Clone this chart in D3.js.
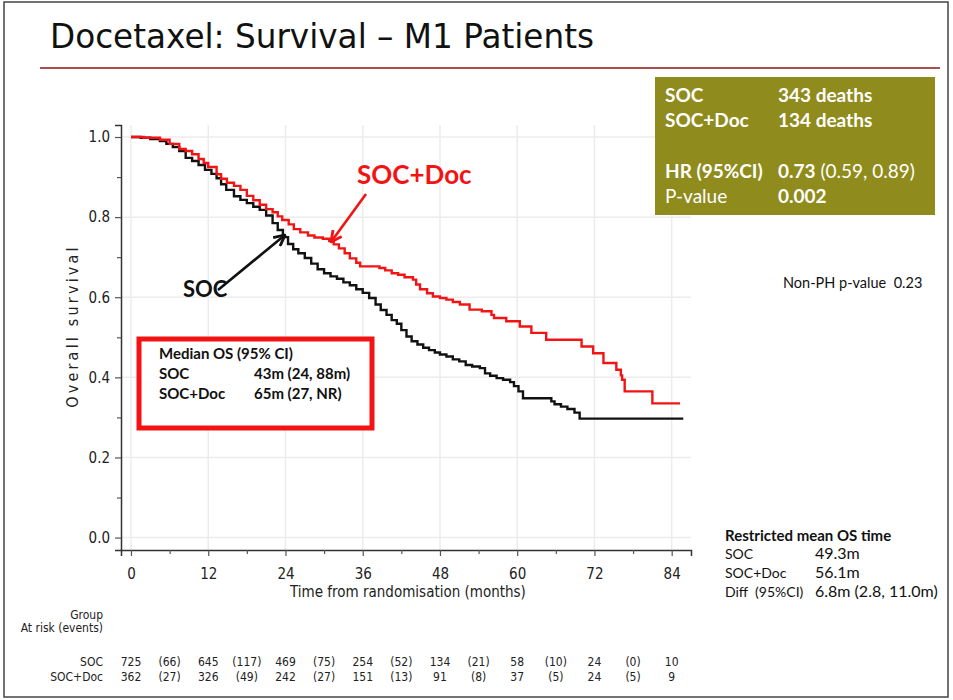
<!DOCTYPE html>
<html>
<head>
<meta charset="utf-8">
<script src="https://cdn.jsdelivr.net/npm/d3@7"></script>
<style>
  html, body { margin: 0; padding: 0; background: #fff; }
  svg { display: block; }
  .cond { font-family: "DejaVu Sans Condensed", "DejaVu Sans", sans-serif; font-stretch: condensed; }
  .cal { font-family: Lato, "Open Sans", sans-serif; }
</style>
</head>
<body>
<svg id="chart" width="953" height="700"></svg>
<script>
// Kaplan–Meier estimates, overall survival by arm (time in months)
const socTime = [0, 1.5, 3, 4.5, 5.5, 6.5, 7.5, 8.5, 9.5, 10.5, 11.5, 12.5, 13.3, 14, 14.8, 16, 17, 18, 19, 20, 21, 22, 22.8, 23.6, 24.4, 25.2, 26, 27, 28, 29, 30, 31, 32, 33, 34, 35, 36, 37, 38, 38.8, 39.7, 40.5, 41.3, 42, 42.8, 43.6, 44.5, 45.4, 46.3, 47.2, 48, 49, 50, 51, 52, 53, 54.2, 55, 55.8, 56.8, 57.8, 58.9, 59.5, 60.2, 60.9, 65.3, 65.8, 66.8, 67.8, 68.9, 69.7, 85.8];
const socSurv = [1.0, 0.998, 0.995, 0.99, 0.983, 0.975, 0.965, 0.948, 0.94, 0.93, 0.918, 0.908, 0.897, 0.882, 0.868, 0.852, 0.843, 0.835, 0.826, 0.818, 0.804, 0.785, 0.768, 0.75, 0.733, 0.72, 0.71, 0.698, 0.684, 0.67, 0.66, 0.652, 0.646, 0.637, 0.63, 0.62, 0.611, 0.598, 0.582, 0.568, 0.556, 0.543, 0.534, 0.518, 0.502, 0.49, 0.482, 0.474, 0.468, 0.462, 0.457, 0.452, 0.445, 0.44, 0.431, 0.427, 0.423, 0.41, 0.404, 0.398, 0.394, 0.388, 0.378, 0.365, 0.348, 0.34, 0.333, 0.327, 0.321, 0.312, 0.297, 0.297];

const docTime = [0, 2, 4.5, 6, 7.5, 8.5, 9.5, 10.5, 11.3, 12, 13.3, 14, 14.9, 16, 17, 18, 19, 20, 21, 22, 22.8, 23.5, 24.5, 25.3, 26.3, 27.5, 28.5, 29.8, 30.8, 31.5, 32.3, 33.2, 34, 35, 35.6, 38.6, 39.5, 40.5, 41.5, 42.5, 43.8, 44.3, 44.9, 46, 46.9, 48, 49, 50, 51.1, 52.6, 54.5, 56, 56.4, 58.3, 60.4, 62.2, 64.5, 70, 71.8, 73.4, 75.4, 76.1, 76.3, 76.7, 81, 85.3];
const docSurv = [1.0, 0.998, 0.993, 0.983, 0.97, 0.965, 0.957, 0.945, 0.935, 0.925, 0.907, 0.896, 0.886, 0.878, 0.868, 0.853, 0.842, 0.831, 0.82, 0.812, 0.802, 0.793, 0.782, 0.77, 0.762, 0.754, 0.749, 0.746, 0.74, 0.732, 0.722, 0.71, 0.697, 0.686, 0.677, 0.673, 0.667, 0.66, 0.656, 0.65, 0.644, 0.632, 0.62, 0.61, 0.602, 0.598, 0.594, 0.588, 0.582, 0.569, 0.565, 0.556, 0.548, 0.54, 0.527, 0.511, 0.494, 0.477, 0.46, 0.436, 0.419, 0.405, 0.394, 0.365, 0.335, 0.335];

// Axis ticks
const xTicks = [0, 12, 24, 36, 48, 60, 72, 84];
const yTicks = [0.0, 0.2, 0.4, 0.6, 0.8, 1.0];

// Numbers at risk (and events in each interval)
const riskGroups = ["SOC", "SOC+Doc"];
const socAtRisk = [725, 645, 469, 254, 134, 58, 24, 10];
const socEvents = [66, 117, 75, 52, 21, 10, 0];
const docAtRisk = [362, 326, 242, 151, 91, 37, 24, 9];
const docEvents = [27, 49, 27, 13, 8, 5, 5];

// Summary statistics
const deathRows = [["SOC", "343 deaths"], ["SOC+Doc", "134 deaths"]];
const medianRows = [["SOC", "43m (24, 88m)"], ["SOC+Doc", "65m (27, NR)"]];
const rmstRows = [["SOC", "49.3m"], ["SOC+Doc", "56.1m"], ["Diff  (95%CI)", "6.8m (2.8, 11.0m)"]];

const svg = d3.select("#chart");

// Page frame, title and rule
svg.append("rect").attr("x", 4).attr("y", 2).attr("width", 944).attr("height", 695)
  .attr("fill", "none").attr("stroke", "#444").attr("stroke-width", 1.5);
svg.append("text").attr("x", 50).attr("y", 48)
  .style("font-family", "'DejaVu Sans'").style("font-size", "33px").attr("fill", "#111")
  .attr("textLength", 544).attr("lengthAdjust", "spacingAndGlyphs")
  .text("Docetaxel: Survival – M1 Patients");
svg.append("line").attr("x1", 40).attr("x2", 940).attr("y1", 68).attr("y2", 68)
  .attr("stroke", "#a8504b").attr("stroke-width", 2);

// Scales
const x = d3.scaleLinear().domain([-1.55, 87]).range([121, 691]);
const y = d3.scaleLinear().domain([-0.031, 1.03]).range([550, 125]);

// Light grid
const g = svg.append("g");
g.selectAll(".gx").data(xTicks).join("line")
  .attr("x1", d => x(d)).attr("x2", d => x(d)).attr("y1", y(1.03)).attr("y2", y(-0.031))
  .attr("stroke", "#ececec").attr("stroke-width", 1.5);
g.selectAll(".gy").data(yTicks).join("line")
  .attr("x1", x(-1.55)).attr("x2", x(87)).attr("y1", d => y(d)).attr("y2", d => y(d))
  .attr("stroke", "#ececec").attr("stroke-width", 1.5);

// Axes
const xMinor = d3.range(6, 87, 12);
const yMinor = [0.1, 0.3, 0.5, 0.7, 0.9];
svg.append("g").attr("transform", `translate(0,${y(-0.031)})`)
  .call(d3.axisBottom(x).tickValues(xTicks).tickSize(6).tickPadding(12).tickFormat(d3.format("d")));
svg.append("g").attr("transform", `translate(0,${y(-0.031)})`)
  .call(d3.axisBottom(x).tickValues(xMinor).tickSize(4).tickFormat(""))
  .call(s => s.select(".domain").remove());
svg.append("g").attr("transform", `translate(${x(-1.55)},0)`)
  .call(d3.axisLeft(y).tickValues(yTicks).tickSize(6).tickPadding(5).tickFormat(d3.format(".1f")));
svg.append("g").attr("transform", `translate(${x(-1.55)},0)`)
  .call(d3.axisLeft(y).tickValues(yMinor).tickSize(4).tickFormat(""))
  .call(s => s.select(".domain").remove());
svg.selectAll(".domain").attr("stroke", "#333").attr("stroke-width", 1.5);
svg.selectAll(".tick line").attr("stroke", "#555").attr("stroke-width", 1.2);
svg.selectAll(".tick text").attr("class", "cond").style("font-size", "15px").attr("fill", "#222");

// Axis titles
svg.append("text").attr("class", "cond").attr("x", 408).attr("y", 597).attr("text-anchor", "middle")
  .style("font-size", "15px").attr("fill", "#222").text("Time from randomisation (months)");
svg.append("text").attr("class", "cond").attr("transform", "translate(78,326) rotate(-90)")
  .attr("text-anchor", "middle").style("font-size", "16px").style("letter-spacing", "3.2px")
  .attr("fill", "#222").text("Overall survival");

// Survival curves
const line = d3.line().x(d => x(d[0])).y(d => y(d[1])).curve(d3.curveStepAfter);
svg.append("path").datum(d3.zip(socTime, socSurv)).attr("d", line)
  .attr("fill", "none").attr("stroke", "#111").attr("stroke-width", 2.4);
svg.append("path").datum(d3.zip(docTime, docSurv)).attr("d", line)
  .attr("fill", "none").attr("stroke", "#f21414").attr("stroke-width", 2.4);

// Curve call-outs with arrows
const defs = svg.append("defs");
[["arrRed", "#f21414"], ["arrBlack", "#111"]].forEach(([id, col]) => {
  defs.append("marker").attr("id", id).attr("viewBox", "0 0 12 12").attr("refX", 11).attr("refY", 6)
    .attr("markerWidth", 13).attr("markerHeight", 13).attr("markerUnits", "userSpaceOnUse")
    .attr("orient", "auto")
    .append("path").attr("d", "M1,1 L11,6 L1,11").attr("fill", "none").attr("stroke", col).attr("stroke-width", 2.6);
});
svg.append("line").attr("x1", 366).attr("y1", 194).attr("x2", 331).attr("y2", 242)
  .attr("stroke", "#f21414").attr("stroke-width", 2.6).attr("marker-end", "url(#arrRed)");
svg.append("line").attr("x1", 218).attr("y1", 290).attr("x2", 285).attr("y2", 235)
  .attr("stroke", "#111").attr("stroke-width", 2.6).attr("marker-end", "url(#arrBlack)");
svg.append("text").attr("class", "cal").attr("x", 357).attr("y", 184).style("font-size", "26px")
  .style("font-weight", "bold").attr("fill", "#f21414").text("SOC+Doc");
svg.append("text").attr("class", "cal").attr("x", 183).attr("y", 297).style("font-size", "22px")
  .style("font-weight", "bold").attr("fill", "#111").text("SOC");

// Median OS box
svg.append("rect").attr("x", 139).attr("y", 339).attr("width", 233).attr("height", 89)
  .attr("fill", "#fff").attr("stroke", "#f21414").attr("stroke-width", 5);
const med = svg.append("g").attr("class", "cal").style("font-size", "15px").style("font-weight", "bold").attr("fill", "#111");
med.append("text").attr("x", 159).attr("y", 359).text("Median OS (95% CI)");
medianRows.forEach((r, i) => {
  med.append("text").attr("x", 159).attr("y", 379 + i * 20).text(r[0]);
  med.append("text").attr("x", 254).attr("y", 379 + i * 20).text(r[1]);
});

// Deaths / hazard ratio panel
svg.append("rect").attr("x", 655).attr("y", 77).attr("width", 280).attr("height", 138).attr("fill", "#8f8b1c");
const hr = svg.append("g").attr("class", "cal").style("font-size", "19px").attr("fill", "#fff");
deathRows.forEach((r, i) => {
  hr.append("text").attr("x", 665).attr("y", 102 + i * 25).style("font-weight", "bold").text(r[0]);
  hr.append("text").attr("x", 778).attr("y", 102 + i * 25).style("font-weight", "bold").text(r[1]);
});
hr.append("text").attr("x", 665).attr("y", 178).style("font-weight", "bold").text("HR (95%CI)");
const hrVal = hr.append("text").attr("x", 778).attr("y", 178);
hrVal.append("tspan").style("font-weight", "bold").text("0.73");
hrVal.append("tspan").text(" (0.59, 0.89)");
hr.append("text").attr("x", 665).attr("y", 203).text("P-value");
hr.append("text").attr("x", 778).attr("y", 203).style("font-weight", "bold").text("0.002");

// Non-proportional hazards test
svg.append("text").attr("class", "cal").attr("x", 783).attr("y", 288).style("font-size", "14.5px")
  .attr("fill", "#111").attr("xml:space", "preserve").text("Non-PH p-value  0.23");

// Restricted mean survival
const rm = svg.append("g").attr("class", "cal").attr("fill", "#111");
rm.append("text").attr("x", 725).attr("y", 541).style("font-size", "15px").style("font-weight", "bold").text("Restricted mean OS time");
rmstRows.forEach((r, i) => {
  rm.append("text").attr("x", 725).attr("y", 559 + i * 19).style("font-size", "14px")
    .attr("xml:space", "preserve").text(r[0]);
  rm.append("text").attr("x", 815).attr("y", 559 + i * 19).style("font-size", "16px").text(r[1]);
});

// Numbers-at-risk table
const rt = svg.append("g").attr("class", "cond").style("font-size", "12px").attr("fill", "#222");
rt.append("text").attr("x", 103).attr("y", 619).attr("text-anchor", "end").text("Group");
rt.append("text").attr("x", 103).attr("y", 632).attr("text-anchor", "end").text("At risk (events)");
const rows = [[socAtRisk, socEvents], [docAtRisk, docEvents]];
rows.forEach(([risk, ev], i) => {
  const yy = 666 + i * 15;
  rt.append("text").attr("x", 103).attr("y", yy).attr("text-anchor", "end").text(riskGroups[i]);
  risk.forEach((v, j) => rt.append("text").attr("x", x(xTicks[j])).attr("y", yy)
    .attr("text-anchor", "middle").text(v));
  ev.forEach((v, j) => rt.append("text").attr("x", x(xTicks[j] + 6)).attr("y", yy)
    .attr("text-anchor", "middle").text(`(${v})`));
});
</script>
</body>
</html>
